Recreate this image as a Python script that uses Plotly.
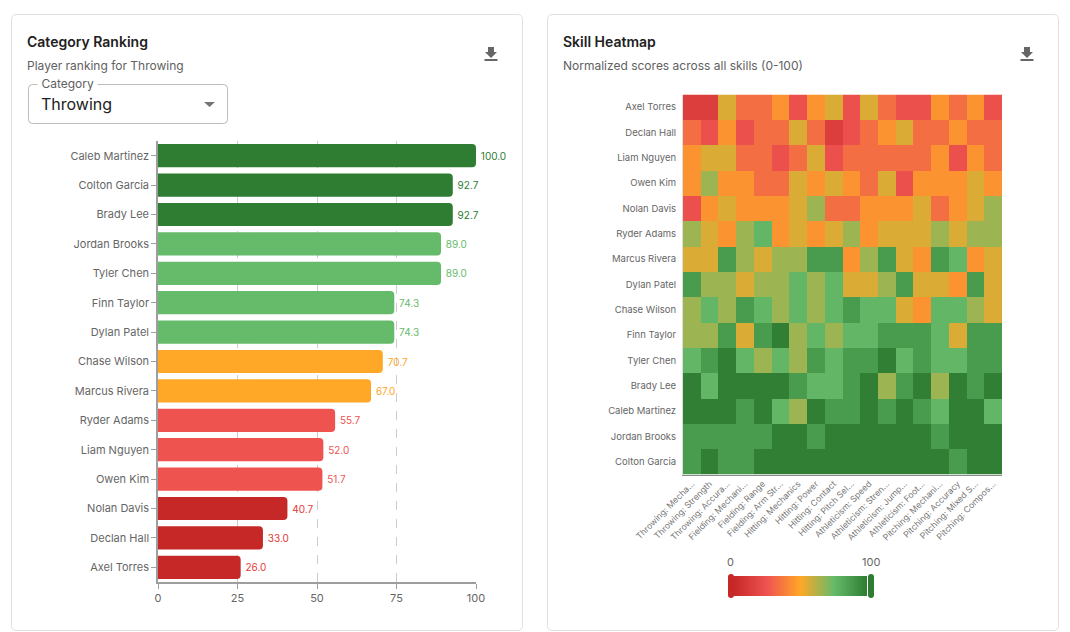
import plotly.graph_objects as go

W, H = 1070, 632
FONT = "Inter, Roboto, sans-serif"

players = ["Caleb Martinez", "Colton Garcia", "Brady Lee", "Jordan Brooks", "Tyler Chen",
           "Finn Taylor", "Dylan Patel", "Chase Wilson", "Marcus Rivera", "Ryder Adams",
           "Liam Nguyen", "Owen Kim", "Nolan Davis", "Declan Hall", "Axel Torres"]
throwing = [100.0, 92.7, 92.7, 89.0, 89.0, 74.3, 74.3, 70.7, 67.0, 55.7, 52.0, 51.7, 40.7, 33.0, 26.0]
bar_colors = ["#2e7d32"] * 3 + ["#66bb6a"] * 4 + ["#ffa726"] * 2 + ["#ef5350"] * 3 + ["#c62828"] * 3
label_colors = ["#2e7d32"] * 3 + ["#66bb6a"] * 4 + ["#ffa726"] * 2 + ["#ef5350"] * 3 + ["#e53935"] * 3

heat_players = ["Axel Torres", "Declan Hall", "Liam Nguyen", "Owen Kim", "Nolan Davis",
                "Ryder Adams", "Marcus Rivera", "Dylan Patel", "Chase Wilson", "Finn Taylor",
                "Tyler Chen", "Brady Lee", "Caleb Martinez", "Jordan Brooks", "Colton Garcia"]
skills = ["Throwing: Mecha...", "Throwing: Strength", "Throwing: Accura...", "Fielding: Mechani...",
          "Fielding: Range", "Fielding: Arm Str...", "Hitting: Mechanics", "Hitting: Power",
          "Hitting: Contact", "Hitting: Pitch Sel...", "Athleticism: Speed", "Athleticism: Stren...",
          "Athleticism: Jump...", "Athleticism: Foot...", "Pitching: Mechani...", "Pitching: Accuracy",
          "Pitching: Mixed S...", "Pitching: Compos..."]

axel    = [13, 13, 56, 33, 33, 44, 23, 44, 56, 23, 56, 33, 23, 23, 44, 33, 44, 23]
declan  = [33, 23, 44, 23, 33, 33, 56, 33, 13, 23, 33, 44, 56, 33, 33, 44, 33, 33]
liam    = [44, 56, 56, 33, 33, 23, 33, 56, 23, 33, 33, 33, 33, 33, 44, 23, 44, 33]
owen    = [44, 66, 44, 44, 33, 33, 56, 44, 56, 44, 33, 56, 23, 44, 44, 44, 56, 44]
nolan   = [23, 44, 56, 44, 44, 44, 56, 66, 33, 33, 44, 44, 44, 56, 33, 44, 56, 66]
ryder   = [66, 56, 44, 66, 77, 44, 56, 44, 56, 66, 44, 56, 56, 56, 66, 56, 66, 66]
marcus  = [56, 56, 88, 66, 56, 66, 66, 88, 88, 44, 66, 88, 56, 44, 88, 77, 44, 56]
dylan   = [88, 66, 66, 56, 66, 66, 77, 66, 77, 56, 56, 66, 88, 56, 56, 44, 88, 56]
chase   = [66, 77, 66, 88, 77, 66, 77, 66, 77, 88, 77, 77, 56, 44, 77, 77, 66, 56]
finn    = [66, 66, 88, 56, 88, 99, 66, 77, 66, 77, 77, 88, 88, 88, 77, 56, 88, 88]
tyler   = [77, 88, 99, 77, 66, 77, 66, 88, 77, 88, 88, 99, 77, 88, 77, 77, 88, 88]
brady   = [99, 77, 99, 99, 99, 99, 88, 77, 77, 88, 99, 66, 88, 99, 66, 99, 88, 99]
caleb   = [99, 99, 99, 88, 99, 77, 66, 99, 88, 88, 99, 88, 99, 88, 77, 99, 99, 77]
jordan  = [88, 88, 88, 88, 88, 99, 99, 88, 99, 99, 99, 99, 99, 99, 88, 99, 99, 99]
colton  = [88, 99, 88, 88, 99, 99, 99, 99, 99, 99, 99, 99, 99, 99, 99, 88, 99, 99]
scores = [axel, declan, liam, owen, nolan, ryder, marcus, dylan, chase, finn, tyler, brady, caleb, jordan, colton]

scale = [[0, "#c62828"], [0.25, "#ef5350"], [0.5, "#ffa726"], [0.75, "#66bb6a"], [1, "#2e7d32"]]


def fx(x):
    return x / W


def fy(y):
    return 1 - y / H


def rounded(x0, y0, x1, y1, r):
    a, b, c, d = fx(x0), fy(y0), fx(x1), fy(y1)
    ax, ay = r / W, r / H
    return (f"M{a+ax},{b} L{c-ax},{b} Q{c},{b} {c},{b-ay} L{c},{d+ay} Q{c},{d} {c-ax},{d} "
            f"L{a+ax},{d} Q{a},{d} {a},{d+ay} L{a},{b-ay} Q{a},{b} {a+ax},{b} Z")


def path_shape(path, fill="rgba(0,0,0,0)", line="rgba(0,0,0,0)", width=1, layer="below"):
    return dict(type="path", xref="paper", yref="paper", path=path, fillcolor=fill,
                line=dict(color=line, width=width), layer=layer)


def poly(points):
    return "M" + " L".join(f"{fx(x)},{fy(y)}" for x, y in points) + " Z"


def text(x, y, s, size, color, weight=400, anchor="left", bg=None, family=FONT):
    return dict(xref="paper", yref="paper", x=fx(x), y=fy(y), text=s, showarrow=False,
                xanchor=anchor, yanchor="middle", bgcolor=bg,
                font=dict(family=family, size=size, color=color, weight=weight),
                borderpad=0)


def download_icon(cx, cy):
    return [
        path_shape(poly([(cx - 3, cy - 7), (cx + 3, cy - 7), (cx + 3, cy - 2), (cx + 6, cy - 2),
                         (cx, cy + 4), (cx - 6, cy - 2), (cx - 3, cy - 2)]), fill="#666666", layer="above"),
        path_shape(poly([(cx - 6.5, cy + 5), (cx + 6.5, cy + 5), (cx + 6.5, cy + 7), (cx - 6.5, cy + 7)]),
                   fill="#666666", layer="above"),
    ]


fig = go.Figure()

fig.add_trace(go.Bar(
    y=players, x=throwing, orientation="h",
    marker=dict(color=bar_colors, line=dict(width=0), cornerradius=4),
    text=[f"\u2009{v:.1f}" for v in throwing], textposition="outside", cliponaxis=False,
    textfont=dict(family=FONT, size=10, color=label_colors),
    xaxis="x", yaxis="y", showlegend=False, hoverinfo="x+y",
))

fig.add_trace(go.Heatmap(
    z=scores, x=skills, y=heat_players, zmin=0, zmax=100, colorscale=scale,
    xaxis="x2", yaxis="y2", xgap=0, ygap=0,
    colorbar=dict(orientation="h", lenmode="pixels", len=133, thicknessmode="pixels", thickness=20,
                  x=fx(734), xanchor="left", xref="paper", y=fy(596), yanchor="bottom", yref="paper",
                  outlinewidth=0, showticklabels=False, ticks="", xpad=0, ypad=0),
))

shapes = [
    path_shape(rounded(11.5, 14.5, 522.5, 630.5, 5), fill="#ffffff", line="#e0e0e0"),
    path_shape(rounded(547.5, 14.5, 1058.5, 630.5, 5), fill="#ffffff", line="#e0e0e0"),
    path_shape(rounded(28.5, 84.5, 227.5, 123.5, 4), fill="#ffffff", line="#bdbdbd"),
    path_shape(poly([(204, 102), (215, 102), (209.5, 107)]), fill="#757575"),
    # white mask: the reference crops the bar labels at the right edge of its chart canvas
    path_shape(poly([(506, 140), (521, 140), (521, 300), (506, 300)]), fill="#ffffff", layer="above"),
    # colour-range handles
    path_shape(rounded(728, 574, 734, 598, 3), fill="#c62828", layer="above"),
    path_shape(rounded(868, 574, 874, 598, 3), fill="#2e7d32", layer="above"),
] + download_icon(491, 54) + download_icon(1027, 54)

annotations = [
    text(26, 41, "Category Ranking", 14, "#212121", 600),
    text(26, 65.5, "Player ranking for Throwing", 12, "#616161"),
    text(37, 83, "&nbsp;Category&nbsp;", 12, "#616161", bg="#ffffff"),
    text(40, 104, "Throwing", 16, "#212121"),
    text(562, 41, "Skill Heatmap", 14, "#212121", 600),
    text(562, 65.5, "Normalized scores across all skills (0-100)", 12, "#616161"),
    text(730.5, 562, "0", 11, "#666666", anchor="center"),
    text(871, 562, "100", 11, "#666666", anchor="center"),
]

tick_font = dict(family=FONT, size=11, color="#666666")
fig.update_layout(
    template=None,
    width=W, height=H, margin=dict(l=0, r=0, t=0, b=0, autoexpand=False), autosize=False,
    paper_bgcolor="#ffffff", plot_bgcolor="rgba(0,0,0,0)", font=dict(family=FONT),
    bargap=0.21, shapes=shapes, annotations=annotations, showlegend=False,
    xaxis=dict(domain=[fx(158), fx(476)], range=[0, 100], anchor="y", tickvals=[0, 25, 50, 75, 100],
               showgrid=True, gridcolor="#cccccc", griddash="dash", gridwidth=1, zeroline=False,
               showline=True, linecolor="#9e9e9e", linewidth=1.5, ticks="outside", ticklen=5,
               tickcolor="#9e9e9e", tickfont=tick_font, automargin=False),
    yaxis=dict(domain=[fy(582), fy(141)], autorange="reversed", type="category", anchor="x",
               showline=True, linecolor="#9e9e9e", linewidth=1.5, ticks="outside", ticklen=5,
               tickcolor="#9e9e9e", tickfont=tick_font, showgrid=False, automargin=False),
    xaxis2=dict(domain=[fx(683), fx(1002)], anchor="y2", type="category", tickangle=-45,
                tickfont=dict(family=FONT, size=8.6, color="#757575"), showgrid=False, ticks="",
                showline=True, linecolor="#8a8a8a", linewidth=1, automargin=False),
    yaxis2=dict(domain=[fy(474.5), fy(94.5)], anchor="x2", type="category", autorange="reversed",
                tickfont=dict(family=FONT, size=9.5, color="#666666"), showgrid=False, ticks="",
                showline=True, linecolor="#dddddd", linewidth=1, automargin=False, ticklabelstandoff=4),
)

fig.write_html("out.html", config={"displayModeBar": False},
               post_script="document.body.style.margin='0';document.body.style.overflow='hidden';")
